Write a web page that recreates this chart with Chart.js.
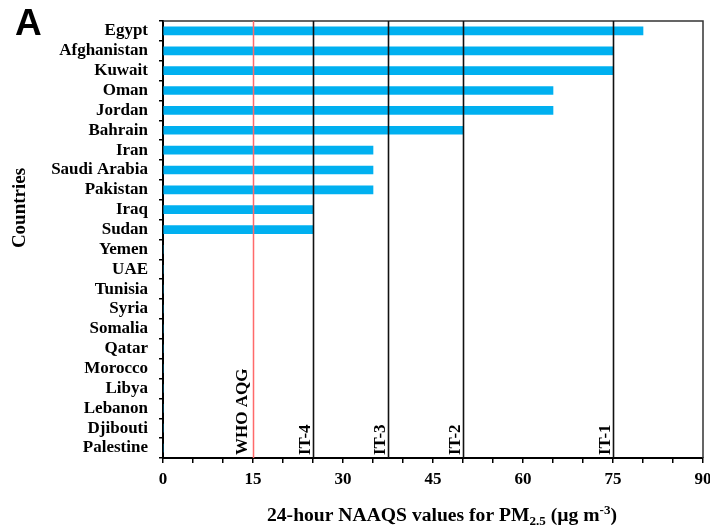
<!DOCTYPE html>
<html>
<head>
<meta charset="utf-8">
<script src="https://cdn.jsdelivr.net/npm/chart.js@4.4.1/dist/chart.umd.min.js"></script>
<style>
  html, body { margin: 0; padding: 0; background: #fff; }
  #wrap { width: 710px; height: 531px; position: relative; }
</style>
</head>
<body>
<div id="wrap"><canvas id="c" width="710" height="531"></canvas></div>
<script>
const countries = ['Egypt','Afghanistan','Kuwait','Oman','Jordan','Bahrain','Iran','Saudi Arabia','Pakistan','Iraq','Sudan','Yemen','UAE','Tunisia','Syria','Somalia','Qatar','Morocco','Libya','Lebanon','Djibouti','Palestine'];
const naaqsValues = [80,75,75,65,65,50,35,35,35,25,25,0,0,0,0,0,0,0,0,0,0,0];
const xTickLabels = [0,15,30,45,60,75,90];
const refValues = [15,25,37.5,50,75];
const refLabels = ['WHO AQG','IT-4','IT-3','IT-2','IT-1'];
const panelLabel = 'A';
const yTitle = 'Countries';

const SERIF = '"Liberation Serif", "Times New Roman", serif';

const overlay = {
  id: 'overlay',
  afterDatasetsDraw(chart) {
    const ctx = chart.ctx;
    const xs = chart.scales.x;
    const a = chart.chartArea;
    ctx.save();
    // frame top/right
    ctx.strokeStyle = '#333';
    ctx.lineWidth = 1.5;
    ctx.beginPath();
    ctx.moveTo(a.left, a.top);
    ctx.lineTo(a.right, a.top);
    ctx.lineTo(a.right, a.bottom);
    ctx.stroke();
    // reference lines
    refValues.forEach((v, i) => {
      const px = Math.round(xs.getPixelForValue(v)) + 0.5;
      ctx.strokeStyle = i === 0 ? '#ff6a6a' : '#111';
      ctx.lineWidth = i === 0 ? 1.5 : 1.6;
      ctx.beginPath();
      ctx.moveTo(px, a.top);
      ctx.lineTo(px, a.bottom);
      ctx.stroke();
      ctx.save();
      ctx.translate(px - (i === 0 ? 7 : 3.5), a.bottom - 3);
      ctx.rotate(-Math.PI / 2);
      ctx.fillStyle = '#000';
      ctx.font = 'bold 17px ' + SERIF;
      ctx.textAlign = 'left';
      ctx.textBaseline = 'alphabetic';
      ctx.fillText(refLabels[i], 0, 0);
      ctx.restore();
    });
    ctx.restore();
  },
  afterDraw(chart) {
    const ctx = chart.ctx;
    ctx.save();
    ctx.fillStyle = '#000';
    // panel label
    ctx.font = 'bold 37px "Liberation Sans", Arial, sans-serif';
    ctx.textBaseline = 'alphabetic';
    ctx.textAlign = 'left';
    ctx.fillText(panelLabel, 15, 35);
    // y title
    ctx.save();
    ctx.translate(25, 208);
    ctx.rotate(-Math.PI / 2);
    ctx.font = 'bold 19px ' + SERIF;
    ctx.textAlign = 'center';
    ctx.fillText(yTitle, 0, 0);
    ctx.restore();
    // x title with sub/superscript
    const big = 'bold 18px ' + SERIF;
    const small = 'bold 12px ' + SERIF;
    const parts = [
      { t: '24-hour NAAQS values for PM', f: big, dy: 0 },
      { t: '2.5', f: small, dy: 4 },
      { t: ' (\u00b5g m', f: big, dy: 0 },
      { t: '-3', f: small, dy: -7 },
      { t: ')', f: big, dy: 0 }
    ];
    let total = 0;
    parts.forEach(p => { ctx.font = p.f; p.w = ctx.measureText(p.t).width; total += p.w; });
    const targetW = 350;
    const sx = targetW / total;
    ctx.translate(442 - targetW / 2, 521);
    ctx.scale(sx, 1);
    let x = 0;
    parts.forEach(p => { ctx.font = p.f; ctx.fillText(p.t, x, p.dy); x += p.w; });
    ctx.restore();
  }
};

new Chart(document.getElementById('c'), {
  type: 'bar',
  data: {
    labels: countries,
    datasets: [{
      data: naaqsValues,
      backgroundColor: '#00b0f0',
      borderWidth: 0,
      barThickness: 8
    }]
  },
  options: {
    indexAxis: 'y',
    responsive: false,
    animation: false,
    devicePixelRatio: 1,
    layout: { padding: { top: 21, right: 7, left: 0, bottom: 0 } },
    plugins: { legend: { display: false }, tooltip: { enabled: false }, title: { display: false } },
    scales: {
      x: {
        type: 'linear',
        min: 0,
        max: 90,
        afterFit(s) { s.height = 73; s.paddingLeft = 0; s.paddingRight = 0; },
        border: { display: true, color: '#000', width: 2 },
        grid: { drawOnChartArea: false, drawTicks: true, tickLength: 5, color: '#000', tickColor: '#000', lineWidth: 1.5 },
        ticks: {
          stepSize: 5,
          autoSkip: false,
          maxRotation: 0,
          padding: 6,
          color: '#000',
          font: { family: SERIF, size: 17, weight: 'bold' },
          callback: (v) => xTickLabels.includes(v) ? String(v) : ''
        }
      },
      y: {
        afterFit(s) { s.width = 163; s.paddingTop = 0; s.paddingBottom = 0; },
        border: { display: true, color: '#000', width: 2 },
        grid: { drawOnChartArea: false, drawTicks: true, tickLength: 4, offset: true, color: '#000', tickColor: '#000', lineWidth: 1.5 },
        ticks: {
          autoSkip: false,
          padding: 11,
          color: '#000',
          font: { family: SERIF, size: 17, weight: 'bold' }
        }
      }
    }
  },
  plugins: [overlay]
});
</script>
</body>
</html>
